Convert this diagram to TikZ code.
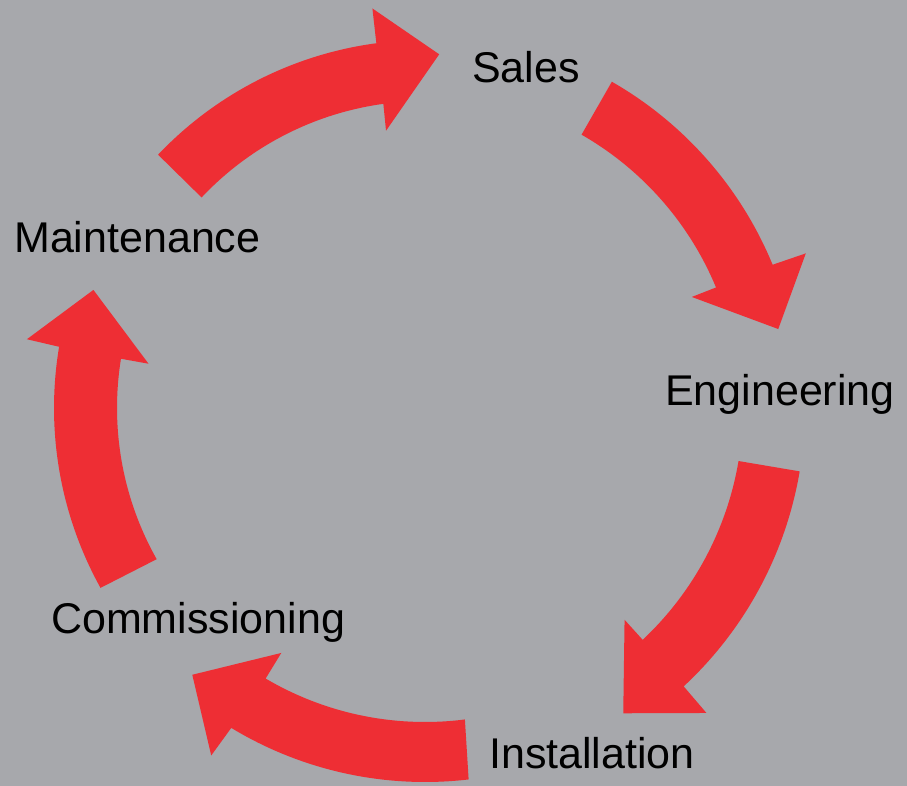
\documentclass[tikz,border=0pt]{standalone}
\usepackage{fontspec}
\setmainfont{Liberation Sans}
\usepackage{tikz}
\usepackage{xcolor}
\definecolor{panelgrey}{RGB}{167,168,172}
\definecolor{cyclered}{RGB}{238,46,52}
\tikzset{stage/.style={anchor=base west,inner sep=0pt,font=\fontsize{43}{51}\selectfont},
 cyclearrow/.style={fill=cyclered},
 }

\begin{document}
\begin{tikzpicture}[x=1pt,y=1pt]
        \fill[panelgrey] (0,0) rectangle (907,-786);
        \useasboundingbox (0,0) rectangle (907,-786);
        % the five arrows round the cycle
        \begin{scope}[shift={(425,-408)}]
        \fill[cyclearrow] (136.5:368pt) arc[start angle=136.5, end angle=97.6, radius=368pt] -- (97.5:403pt) -- (87.7:354pt) -- (98:280pt) -- (97.8:307pt) arc[start angle=97.8, end angle=136.7, radius=307pt] -- cycle;
        \fill[cyclearrow] (60.2:376pt) arc[start angle=60.2, end angle=22.4, radius=376pt] -- (22.1:411pt) -- (12.6:362pt) -- (22.6:289pt) -- (22.5:315pt) arc[start angle=22.5, end angle=60.2, radius=315pt] -- cycle;
        \fill[cyclearrow] (-9.6:380pt) arc[start angle=-9.6, end angle=-47.1, radius=380pt] -- (-47.3:415pt) -- (-57:364pt) -- (-46.7:291pt) -- (-46.8:318pt) arc[start angle=-46.8, end angle=-9.6, radius=318pt] -- cycle;
        \fill[cyclearrow] (-83.3:374pt) arc[start angle=-83.3, end angle=-121.2, radius=374pt] -- (-121.6:408pt) -- (-131.1:354pt) -- (-120.4:284pt) -- (-120.5:314pt) arc[start angle=-120.5, end angle=-82.7, radius=314pt] -- cycle;
        \fill[cyclearrow] (209:371pt) arc[start angle=209, end angle=170.5, radius=371pt] -- (170.2:404pt) -- (160.4:352pt) -- (170.9:280pt) -- (170.8:308pt) arc[start angle=170.8, end angle=209.4, radius=308pt] -- cycle;
        \end{scope}
        % stage labels
        \node[stage] (sales) at (472,-83) {Sales};
        \node[stage] (engineering) at (665,-405) {Engineering};
        \node[stage] (installation) at (489,-768) {Installation};
        \node[stage] (commissioning) at (51,-633) {Commissioning};
        \node[stage] (maintenance) at (14,-253) {Maintenance};
    \end{tikzpicture}
\end{document}
